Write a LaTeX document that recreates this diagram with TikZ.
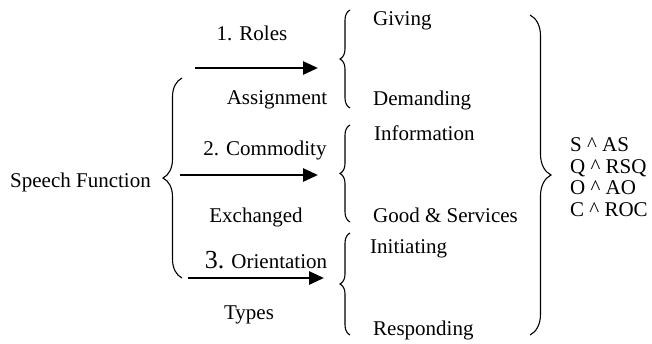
\documentclass[tikz,border=0pt]{standalone}
\usepackage{fontspec}
\setmainfont{Liberation Serif}
\usetikzlibrary{decorations.pathreplacing,arrows.meta,positioning}

\begin{document}
\begin{tikzpicture}[x=1pt,y=-1pt,font=\fontsize{21}{25}\selectfont,
    lbl/.style={anchor=base,inner sep=0pt},
    item/.style={anchor=base west,inner sep=0pt},
    brc/.style={decorate,decoration={brace,amplitude=#1},line width=1.1pt},
    arr/.style={-{Triangle[length=15pt,width=13pt]},line width=2.8pt}]
\useasboundingbox (0,0) rectangle (652,343);

\node[item] (SF) at (10,187) {Speech Function};
\draw[brc=19] (182,278) coordinate (LBb) -- (182,78) coordinate (LBt);

\foreach \xs/\xe/\y [count=\n] in {195/318/68,180/318/175,188/324/278}
    \draw[arr] (\xs,\y) coordinate (A\n s) -- (\xe,\y) coordinate (A\n e);

\node[lbl] (R1) at (252,40) {1. Roles};
\node[lbl] (R2) at (277,104) {Assignment};
\node[lbl] (C1) at (265,155) {2. Commodity};
\node[lbl] (C2) at (256,222) {Exchanged};
\node[lbl] (O1) at (266,268) {{\fontsize{26}{28}\selectfont 3.} Orientation};
\node[lbl] (O2) at (249,319) {Types};

\foreach \yt/\yb [count=\n] in {10/108,125/222,233/335}
    \draw[brc=10] (350,\yb) coordinate (B\n b) -- (350,\yt) coordinate (B\n t);

\node[item] (G) at (373,25) {Giving};
\node[item] (D) at (373,105) {Demanding};
\node[item] (I) at (374,140) {Information};
\node[item] (GS) at (373,222) {Good \& Services};
\node[item] (In) at (370,253) {Initiating};
\node[item] (Re) at (373,335) {Responding};

\draw[brc=21] (530,15) coordinate (RBt) -- (530,335) coordinate (RBb);

\foreach \t [count=\n] in {S \^{} AS,Q \^{} RSQ,O \^{} AO,C \^{} ROC}
    \node[item] (M\n) at (570,130+21.5*\n) {\t};
\end{tikzpicture}
\end{document}
